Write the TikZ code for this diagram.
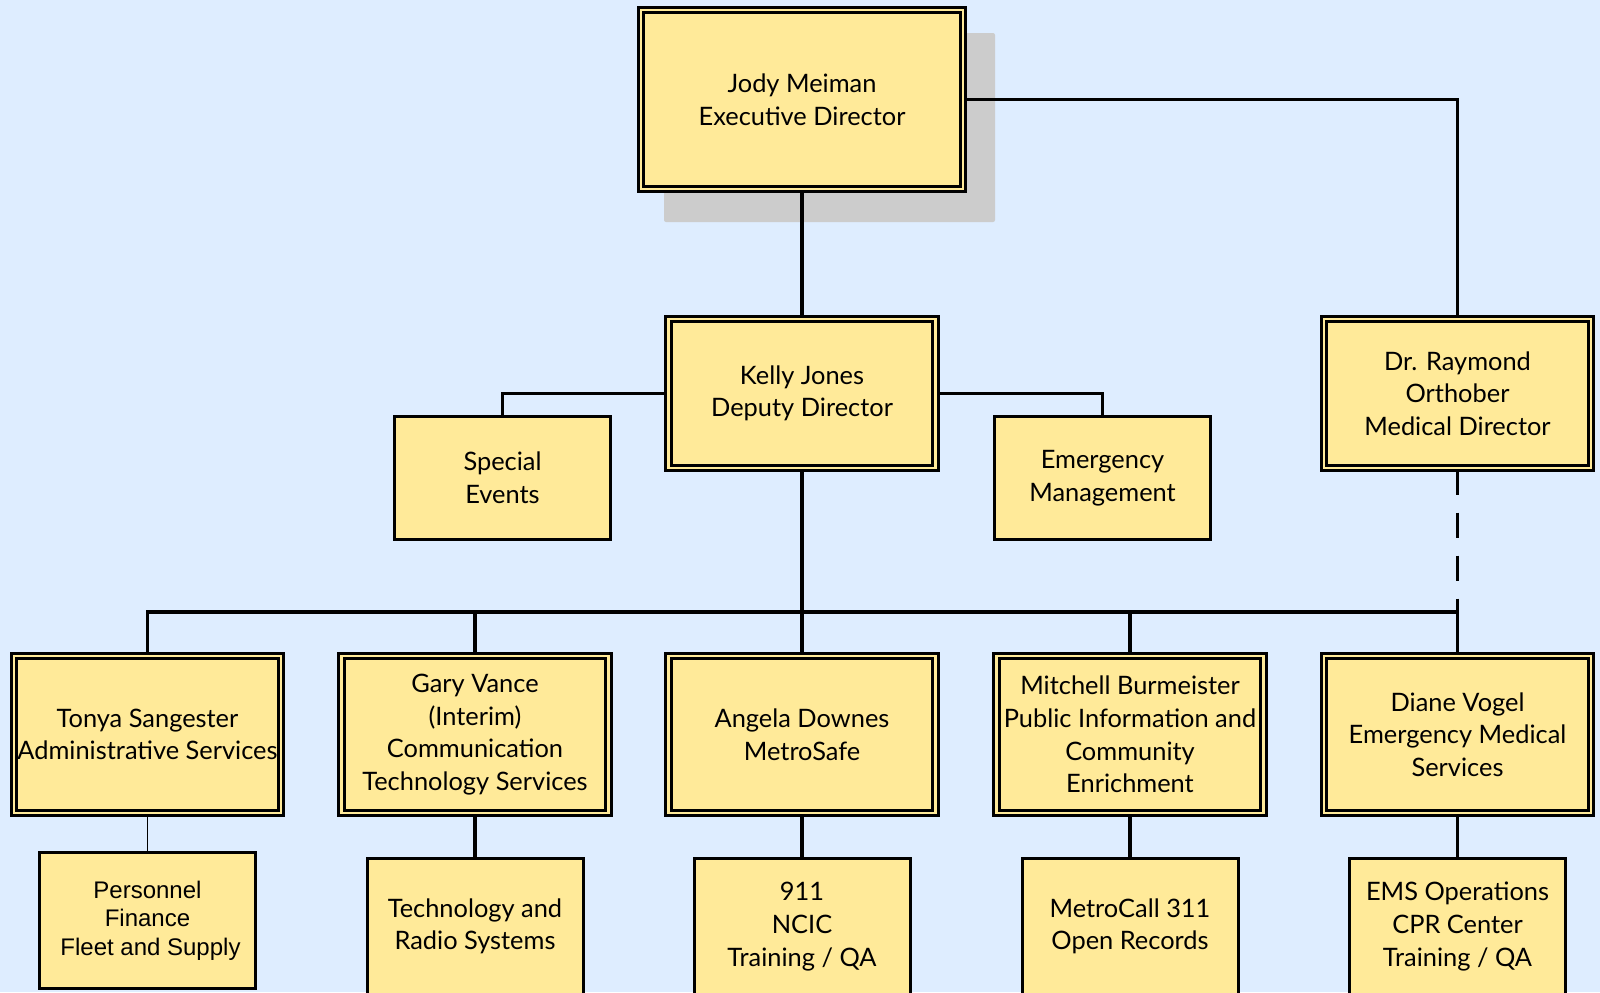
\documentclass[tikz,border=0pt]{standalone}
\usepackage{fontspec}
\setmainfont{Lato}
\newfontfamily\arialfont{Liberation Sans}
\definecolor{bgblue}{RGB}{222,237,255}
\definecolor{boxfill}{RGB}{255,234,153}
\definecolor{shadowgray}{RGB}{204,204,204}
\newcommand\mainfs{\fontsize{12.7}{16.3}\selectfont}
\newcommand\arialfs{\arialfont\fontsize{12}{14.3}\selectfont}
\begin{document}
\begin{tikzpicture}[x=0.5pt,y=-0.5pt,
  dbox/.style={draw=black, line width=1.6pt, double=boxfill, double distance=1.1pt,
    fill=boxfill, align=center, inner sep=0pt, font=\mainfs},
  sbox/.style={draw=black, line width=1.5pt, fill=boxfill, align=center,
    inner sep=0pt, font=\mainfs},
  rowtwo/.style={dbox, minimum width=133.5pt, minimum height=74.5pt},
  rowthree/.style={dbox, minimum width=133.5pt, minimum height=78.5pt},
  sidebox/.style={sbox, minimum width=108pt, minimum height=61.5pt},
  leafbox/.style={sbox, minimum width=108pt, minimum height=68pt},
  conn/.style={draw=black, line width=1.6pt},
  thinconn/.style={draw=black, line width=0.8pt},
  dashconn/.style={conn, dash pattern=on 12.5pt off 9pt}]
\useasboundingbox[fill=bgblue] (0,0) rectangle (1600,992);
% shadow of top box
\fill[shadowgray, rounded corners=1pt] (664,33) rectangle (995,222);
% nodes
\node[dbox, minimum width=161pt, minimum height=89.5pt] (exec) at (802,99.5) {Jody Meiman\\Executive Director};
\node[rowtwo] (dep) at (802,393.5) {Kelly Jones\\Deputy Director};
\node[rowtwo] (med) at (1457.5,393.5) {Dr. Raymond\\Orthober\\Medical Director};
\node[sidebox] (spec) at (502.5,478) {Special\\Events};
\node[sidebox] (emerg) at (1102.5,478) {Emergency\\Management};
\node[rowthree] (ton) at (147.5,734.5) {Tonya Sangester\\Administrative Services};
\node[rowthree] (gary) at (475,734.5) {Gary Vance\\(Interim)\\Communication\\Technology Services};
\node[rowthree] (ang) at (802,734.5) {Angela Downes\\MetroSafe};
\node[rowthree] (mit) at (1130,734.5) {Mitchell Burmeister\\Public Information and\\Community\\Enrichment};
\node[rowthree] (dia) at (1457.5,734.5) {Diane Vogel\\Emergency Medical\\Services};
\node[leafbox, font=\arialfs] (pers) at (147.5,920.5) {Personnel\\Finance\\\hspace*{3pt}Fleet and Supply};
\node[leafbox] (tech) at (475,926.5) {Technology and\\Radio Systems};
\node[leafbox] (nine) at (802,926.5) {911\\NCIC\\Training / QA};
\node[leafbox] (call) at (1130,926.5) {MetroCall 311\\Open Records};
\node[leafbox] (ems) at (1457.5,926.5) {EMS Operations\\CPR Center\\Training / QA};
% connectors
\coordinate (bus) at (0,612);
\draw[conn] (exec.south) -- (dep.north);
\draw[conn] (exec.east) -| (med.north);
\draw[conn] (dep.west) -| (spec.north);
\draw[conn] (dep.east) -| (emerg.north);
\draw[conn] (dep.south) -- (ang.north);
\draw[conn] (ton.north) -- (ton.north |- bus) -- (dia.north |- bus) -- (dia.north);
\draw[conn] (gary.north) -- (gary.north |- bus);
\draw[conn] (mit.north) -- (mit.north |- bus);
\draw[dashconn] (med.south) -- (med.south |- bus);
\draw[thinconn] (ton.south) -- (pers.north);
\draw[conn] (gary.south) -- (tech.north);
\draw[conn] (ang.south) -- (nine.north);
\draw[conn] (mit.south) -- (call.north);
\draw[conn] (dia.south) -- (ems.north);
\end{tikzpicture}
\end{document}
